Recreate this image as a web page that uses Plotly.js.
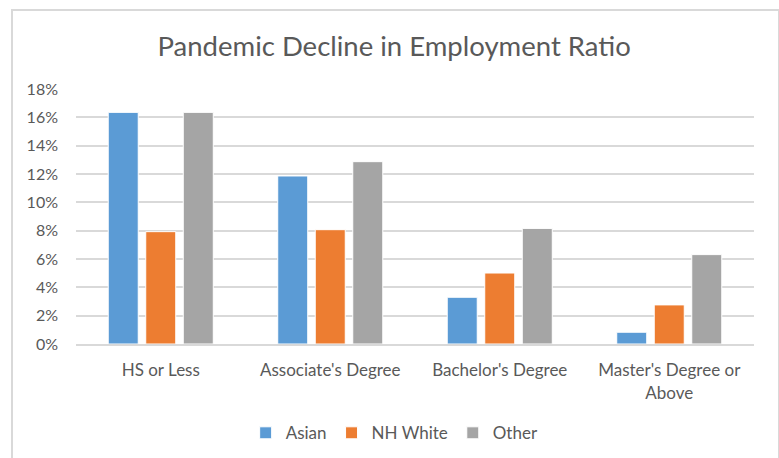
<!DOCTYPE html>
<html>
<head>
<meta charset="utf-8">
<script src="https://cdn.plot.ly/plotly-3.0.1.min.js"></script>
<style>
  html, body { margin: 0; padding: 0; background: #ffffff; }
  #wrap { position: relative; width: 779px; height: 458px; }
  #chart { width: 779px; height: 458px; }
  #frame { position: absolute; left: 11px; top: 9px; width: 765px; height: 460px;
           border: 2px solid #D9D9D9; pointer-events: none; }
</style>
</head>
<body>
<div id="wrap">
  <div id="chart"></div>
  <div id="frame"></div>
</div>
<script>
const categories = ["HS or Less", "Associate's Degree", "Bachelor's Degree", "Master's Degree or<br>Above"];
const asian   = [0.1635, 0.1186, 0.0330, 0.0083];
const nhWhite = [0.0793, 0.0807, 0.0501, 0.0276];
const other   = [0.1635, 0.1287, 0.0816, 0.0631];
const yTicks  = [0, 0.02, 0.04, 0.06, 0.08, 0.10, 0.12, 0.14, 0.16, 0.18];
const yTickText = ["0%", "2%", "4%", "6%", "8%", "10%", "12%", "14%", "16%", "18%"];

const FONT = "Lato, 'Open Sans', sans-serif";
const mk = (name, y, color) => ({
  type: 'bar', name: name, x: categories, y: y,
  marker: { color: color, line: { color: '#ffffff', width: 1 } },
  hoverinfo: 'x+y+name'
});

const data = [
  mk('Asian', asian, '#5B9BD5'),
  mk('NH White', nhWhite, '#ED7D31'),
  mk('Other', other, '#A5A5A5')
];

const layout = {
  width: 779, height: 458,
  margin: { l: 76, r: 25, t: 89, b: 114, autoexpand: false },
  paper_bgcolor: '#ffffff', plot_bgcolor: '#ffffff',
  font: { family: FONT, color: '#595959', size: 15 },
  title: { text: 'Pandemic Decline in Employment Ratio', font: { family: FONT, size: 27.5, color: '#595959' },
           x: 0.506, xref: 'container', xanchor: 'center', y: 0.898, yref: 'container', yanchor: 'middle' },
  barmode: 'group', bargap: 0.336, bargroupgap: 0.2,
  xaxis: { type: 'category', showgrid: false, zeroline: false, showline: true, linecolor: '#D9D9D9', linewidth: 2,
           ticks: '', tickfont: { family: FONT, size: 17, color: '#595959' }, ticklabelstandoff: 10 },
  yaxis: { range: [0, 0.18], tickvals: yTicks, ticktext: yTickText, showgrid: true, gridcolor: '#D9D9D9', gridwidth: 2,
           zeroline: false, showline: false, ticks: '', tickfont: { family: FONT, size: 16, color: '#595959' },
           ticklabelstandoff: 17, fixedrange: true },
  legend: { orientation: 'h', x: 0.47, xanchor: 'center', y: -0.35, yanchor: 'middle',
            font: { family: FONT, size: 17, color: '#595959' }, itemwidth: 30, traceorder: 'normal' },
  showlegend: true
};

Plotly.newPlot('chart', data, layout, { displayModeBar: false, staticPlot: true });
</script>
</body>
</html>
